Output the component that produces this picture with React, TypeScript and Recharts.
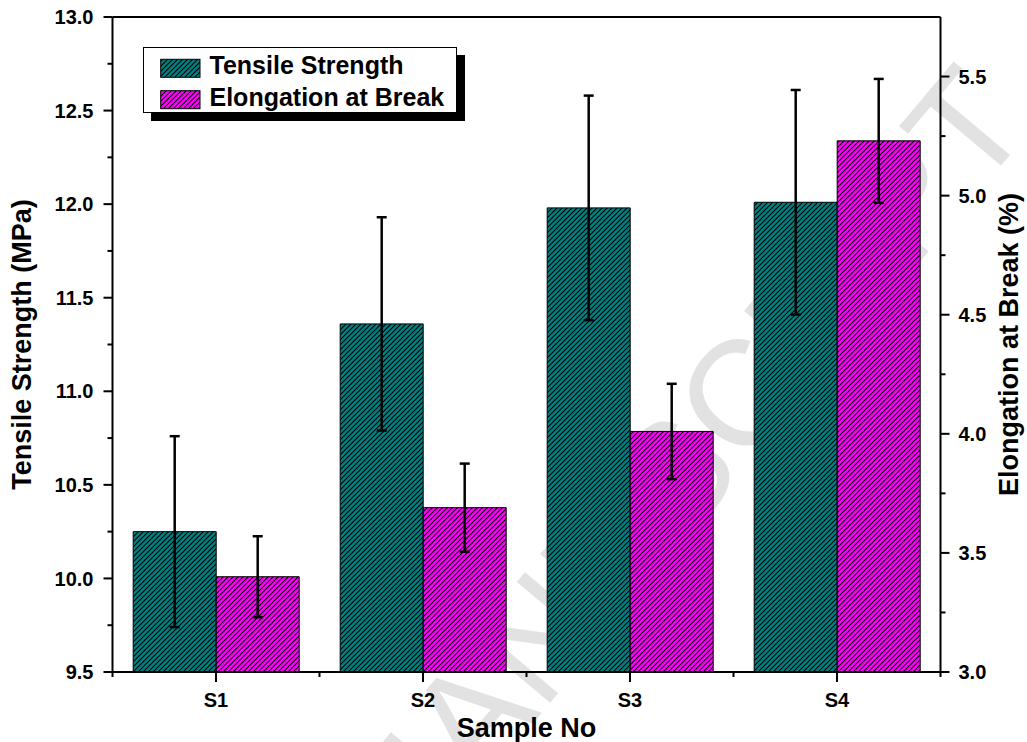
import React from 'react';
import { BarChart, Bar, XAxis, YAxis, ErrorBar, ReferenceLine, Legend } from 'recharts';

// values
const samples = ['S1', 'S2', 'S3', 'S4'];
const tensileStrength = [10.25, 11.36, 11.98, 12.01];
const tensileError = [0.51, 0.57, 0.6, 0.6];
const elongation = [3.4, 3.69, 4.01, 5.23];
const elongationError = [0.17, 0.185, 0.2, 0.26];

const leftTicks = [9.5, 9.75, 10, 10.25, 10.5, 10.75, 11, 11.25, 11.5, 11.75, 12, 12.25, 12.5, 12.75, 13];
const rightTicks = [3, 3.25, 3.5, 3.75, 4, 4.25, 4.5, 4.75, 5, 5.25, 5.5];
const seriesOrder = ['ts', 'el'];

const data = samples.map((s, i) => ({
  sample: s,
  ts: tensileStrength[i],
  tsErr: tensileError[i],
  el: elongation[i],
  elErr: elongationError[i],
}));

const W = 1027;
const H = 742;
const LEFT_W = 112.5;
const RIGHT_W = 86.5;
const PLOT_W = W - LEFT_W - RIGHT_W;
const HALF_BAND = PLOT_W / samples.length / 2;

const FONT = '"Liberation Sans", Arial, Helvetica, sans-serif';
const tickText = { fontFamily: FONT, fontWeight: 700, fontSize: 20, fill: '#000' };
const TEAL = '#008080';
const MAGENTA = '#ff00ff';

const isMajor = (v: number) => Math.abs(v * 2 - Math.round(v * 2)) < 1e-6;

const LeftTick = ({ x, y, payload }: any) => {
  const v = Number(payload.value);
  const major = isMajor(v);
  return (
    <g>
      <line x1={x} x2={x - (major ? 9 : 5)} y1={y} y2={y} stroke="#000" strokeWidth={2} />
      {major && (
        <text x={x - 19} y={y} dy={7.2} textAnchor="end" style={tickText}>
          {v.toFixed(1)}
        </text>
      )}
    </g>
  );
};

const RightTick = ({ x, y, payload }: any) => {
  const v = Number(payload.value);
  const major = isMajor(v);
  return (
    <g>
      <line x1={x} x2={x + (major ? 9 : 5)} y1={y} y2={y} stroke="#000" strokeWidth={2} />
      {major && (
        <text x={x + 18} y={y} dy={7.2} textAnchor="start" style={tickText}>
          {v.toFixed(1)}
        </text>
      )}
    </g>
  );
};

const BottomTick = ({ x, y, payload, index }: any) => (
  <g>
    <line x1={x} x2={x} y1={y} y2={y + 10} stroke="#000" strokeWidth={2} />
    <line x1={x + HALF_BAND} x2={x + HALF_BAND} y1={y} y2={y + 5} stroke="#000" strokeWidth={2} />
    {index === 0 && (
      <line x1={x - HALF_BAND} x2={x - HALF_BAND} y1={y} y2={y + 5} stroke="#000" strokeWidth={2} />
    )}
    <text x={x} y={y + 34.7} textAnchor="middle" style={tickText}>
      {payload.value}
    </text>
  </g>
);

const Hatch = ({ id, color }: { id: string; color: string }) => (
  <pattern id={id} patternUnits="userSpaceOnUse" width={5} height={5}>
    <rect width={5} height={5} fill={color} />
    <path d="M-1,1 L1,-1 M0,5 L5,0 M4,6 L6,4" stroke="#000" strokeWidth={1.1} />
  </pattern>
);

const LegendBox = ({ payload }: any) => {
  const items = [...(payload || [])].sort(
    (a: any, b: any) => seriesOrder.indexOf(a.dataKey) - seriesOrder.indexOf(b.dataKey)
  );
  return (
    <div
      style={{
        width: 314,
        height: 66,
        boxSizing: 'border-box',
        border: '1px solid #000',
        background: '#fff',
        boxShadow: '8px 8px 0 #000',
      }}
    >
      <svg width={312} height={64} style={{ display: 'block' }}>
        <defs>
          <Hatch id="legTeal" color={TEAL} />
          <Hatch id="legMagenta" color={MAGENTA} />
        </defs>
        {items.map((entry: any, i: number) => (
          <g key={entry.value}>
            <rect
              x={16.7}
              y={11.3 + i * 31.4}
              width={39.3}
              height={18}
              fill={entry.dataKey === 'ts' ? 'url(#legTeal)' : 'url(#legMagenta)'}
              stroke="#000"
              strokeWidth={1}
            />
            <text
              x={65.5}
              y={26.3 + i * 31.6}
              style={{ fontFamily: FONT, fontWeight: 700, fontSize: 25, fill: '#000' }}
            >
              {entry.value}
            </text>
          </g>
        ))}
      </svg>
    </div>
  );
};

const titleStyle = { fontFamily: FONT, fontWeight: 700, fontSize: 27, fill: '#000', textAnchor: 'middle' as const };

export default function App() {
  return (
    <div style={{ position: 'absolute', left: 0, top: 0, width: W, height: H, background: '#fff' }}>
      <svg width={W} height={H} style={{ position: 'absolute', left: 0, top: 0 }}>
        <text
          x={1035}
          y={125}
          transform="rotate(-50 1035 125)"
          textAnchor="end"
          fontSize={150}
          fontWeight={400}
          fontFamily={FONT}
          fill="#e2e2e2"
        >
          MANUSCRIPT
        </text>
      </svg>
      <div style={{ position: 'absolute', left: 0, top: 0 }}>
        <BarChart
          width={W}
          height={H}
          data={data}
          margin={{ top: 17, right: 0, bottom: 0, left: 0 }}
          barCategoryGap="10%"
          barGap={0}
        >
          <defs>
            <Hatch id="hatchTeal" color={TEAL} />
            <Hatch id="hatchMagenta" color={MAGENTA} />
          </defs>
          <XAxis
            dataKey="sample"
            height={70}
            axisLine={{ stroke: '#000', strokeWidth: 2 }}
            tickLine={false}
            tickSize={0}
            tickMargin={0}
            interval={0}
            tick={<BottomTick />}
            label={{ value: 'Sample No', position: 'insideBottom', offset: 5, style: titleStyle }}
          />
          <YAxis
            yAxisId="left"
            width={LEFT_W}
            domain={[9.5, 13]}
            ticks={leftTicks}
            interval={0}
            allowDataOverflow
            axisLine={{ stroke: '#000', strokeWidth: 2 }}
            tickLine={false}
            tickSize={0}
            tickMargin={0}
            tick={<LeftTick />}
            label={{ value: 'Tensile Strength (MPa)', angle: -90, position: 'insideLeft', offset: 21, style: titleStyle }}
          />
          <YAxis
            yAxisId="right"
            orientation="right"
            width={RIGHT_W}
            domain={[3, 5.75]}
            ticks={rightTicks}
            interval={0}
            allowDataOverflow
            axisLine={{ stroke: '#000', strokeWidth: 2 }}
            tickLine={false}
            tickSize={0}
            tickMargin={0}
            tick={<RightTick />}
            label={{ value: 'Elongation at Break (%)', angle: -90, position: 'insideRight', offset: 19, style: titleStyle }}
          />
          <ReferenceLine yAxisId="left" y={13} stroke="#000" strokeWidth={2} />
          <Legend
            layout="vertical"
            align="center"
            verticalAlign="middle"
            wrapperStyle={{ left: 143, top: 47, width: 314, height: 66 }}
            content={<LegendBox />}
          />
          <Bar
            dataKey="ts"
            yAxisId="left"
            name="Tensile Strength"
            fill="url(#hatchTeal)"
            stroke="#000"
            strokeWidth={1}
            isAnimationActive={false}
          >
            <ErrorBar dataKey="tsErr" width={5} strokeWidth={2.5} stroke="#000" />
          </Bar>
          <Bar
            dataKey="el"
            yAxisId="right"
            name="Elongation at Break"
            fill="url(#hatchMagenta)"
            stroke="#000"
            strokeWidth={1}
            isAnimationActive={false}
          >
            <ErrorBar dataKey="elErr" width={5} strokeWidth={2.5} stroke="#000" />
          </Bar>
        </BarChart>
      </div>
    </div>
  );
}
